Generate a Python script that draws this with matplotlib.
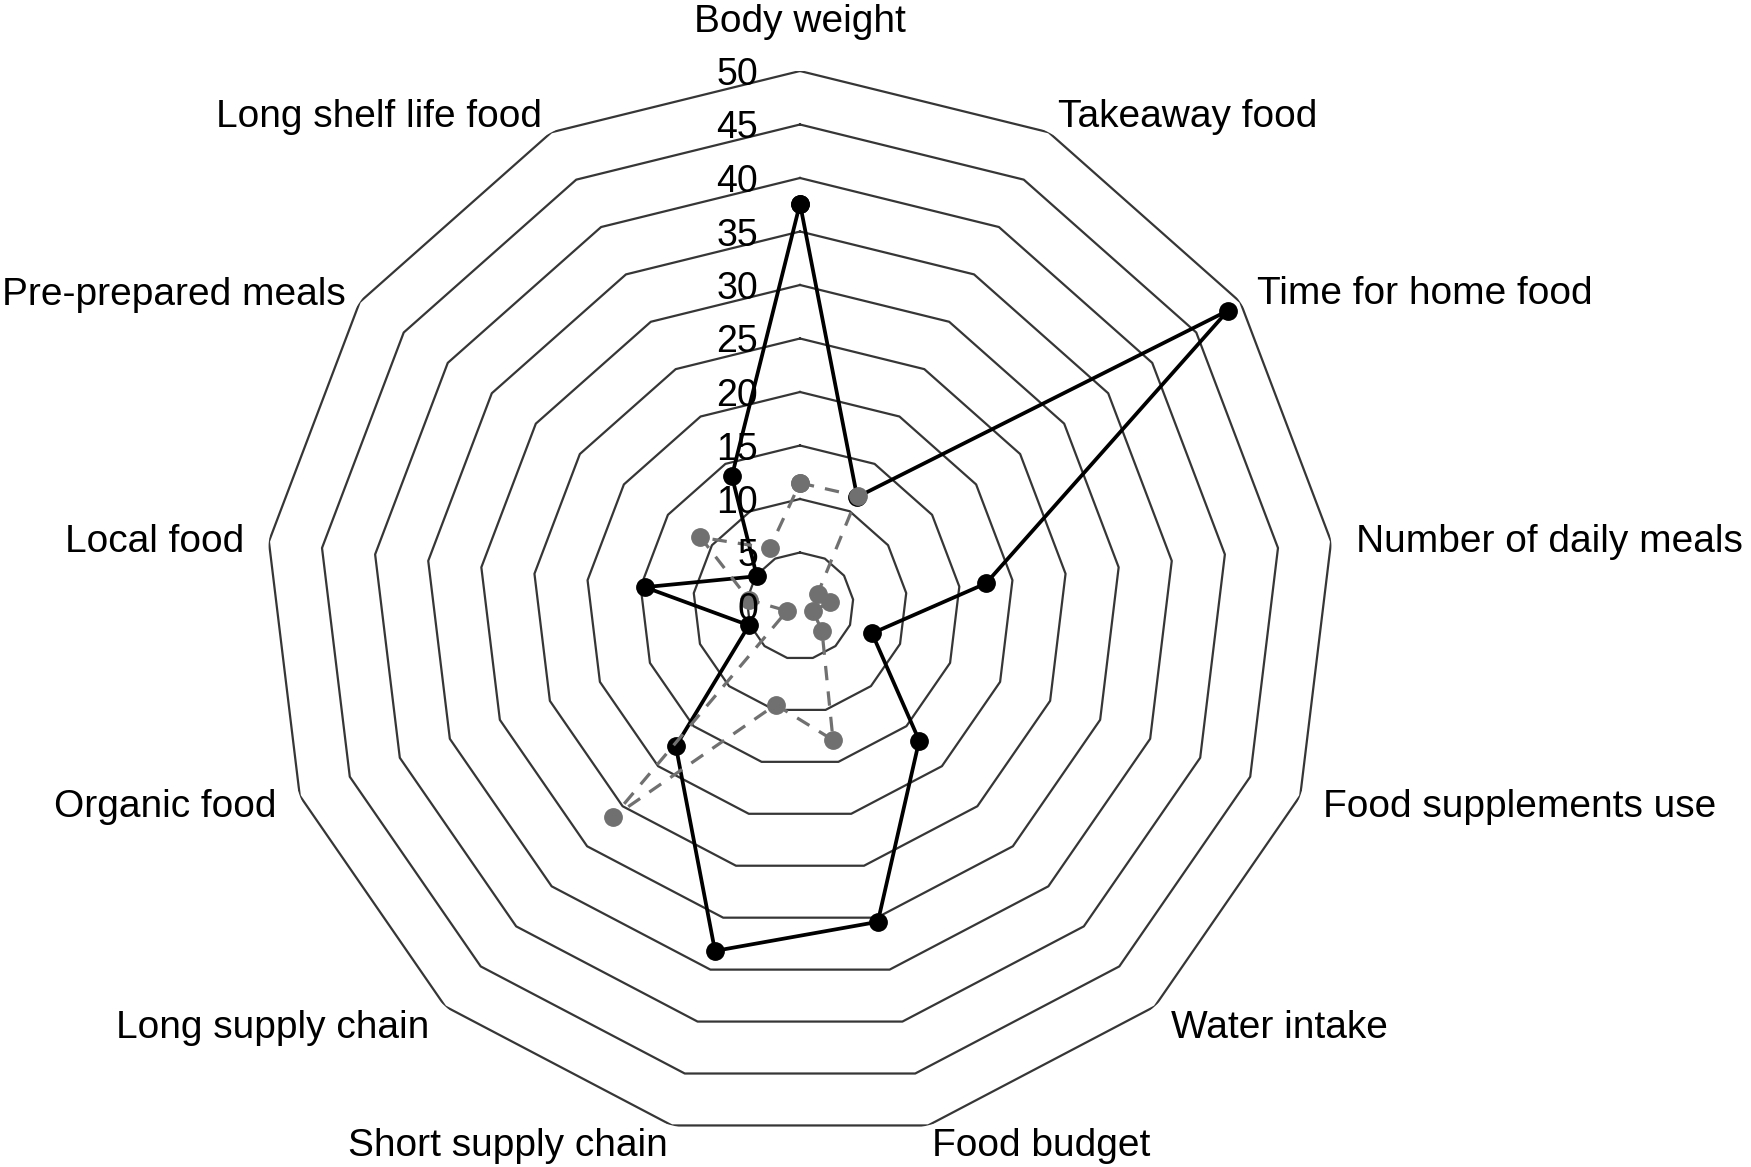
import matplotlib
matplotlib.use("Agg")
import matplotlib.pyplot as plt
import matplotlib.transforms as mtransforms
import numpy as np

plt.rcParams["font.family"] = ["Liberation Sans", "DejaVu Sans"]

categories = [
    "Body weight", "Takeaway food", "Time for home food", "Number of daily meals",
    "Food supplements use", "Water intake", "Food budget", "Short supply chain",
    "Long supply chain", "Organic food", "Local food", "Pre-prepared meals",
    "Long shelf life food",
]
series_solid = [37.6, 11.5, 48.6, 17.5, 7.2, 16.8, 30.4, 33.2, 17.5, 5.1, 14.6, 4.9, 13.7]
series_dashed = [11.5, 11.6, 2.0, 2.8, 1.3, 3.1, 12.9, 9.5, 26.4, 1.3, 4.8, 11.3, 6.1]
ring_levels = [5, 10, 15, 20, 25, 30, 35, 40, 45, 50]
tick_values = [0, 5, 10, 15, 20, 25, 30, 35, 40, 45, 50]
tick_labels = ["0", "5", "10", "15", "20", "25", "30", "35", "40", "45", "50"]

W, H, DPI = 1751, 1167, 100
fig = plt.figure(figsize=(W / DPI, H / DPI), dpi=DPI)
fig.patch.set_facecolor("white")

# centre at (800, 606) px, r=50 -> 535 px
cx, cy, R = 800, 606, 535
ax = fig.add_axes([(cx - R) / W, (H - cy - R) / H, 2 * R / W, 2 * R / H], polar=True)
ax.set_theta_zero_location("N")
ax.set_theta_direction(-1)
ax.set_ylim(0, 50)
ax.grid(False)
ax.set_xticks([])
ax.set_yticks([])
ax.spines["polar"].set_visible(False)
ax.patch.set_visible(False)

n = len(categories)
angles = np.linspace(0, 2 * np.pi, n, endpoint=False)
closed = np.append(angles, angles[0])

# polygon rings
for lev in ring_levels:
    ax.plot(closed, [lev] * (n + 1), color="#363636", lw=1.6, zorder=1)

solid = np.append(series_solid, series_solid[0])
dashed = np.append(series_dashed, series_dashed[0])
ax.plot(closed, solid, color="black", lw=2.7, marker="o", markersize=12.5,
        zorder=3, clip_on=False)
ax.plot(closed, dashed, color="#707070", lw=2.3, linestyle=(0, (4.5, 3.5)),
        marker="o", markersize=12.5, markerfacecolor="#707070",
        markeredgecolor="#707070", zorder=4, clip_on=False)

# radial tick labels, right aligned left of the vertical axis
offs = mtransforms.offset_copy(ax.transData, fig=fig, x=-42, y=-4, units="dots")
for v, lab in zip(tick_values, tick_labels):
    ax.text(0, v, lab, transform=offs, ha="right", va="center",
            fontsize=27, zorder=6)

# category labels
lab_tr = mtransforms.offset_copy(ax.transData, fig=fig, x=0, y=-3, units="dots")
for i, (a, name) in enumerate(zip(angles, categories)):
    deg = np.degrees(a)
    if i == 0:
        ax.text(a, 54.6, name, ha="center", va="center", fontsize=28)
    else:
        ha = "left" if deg < 180 else "right"
        r = 51.7 if 150 < deg < 210 else 52.3
        if deg < 70 or deg > 290:
            r = 51.9
        if name == "Pre-prepared meals":
            r = 51.6
        ax.text(a, r, name, ha=ha, va="center", fontsize=28, transform=lab_tr)

fig.savefig("out.png", dpi=DPI, facecolor="white")
